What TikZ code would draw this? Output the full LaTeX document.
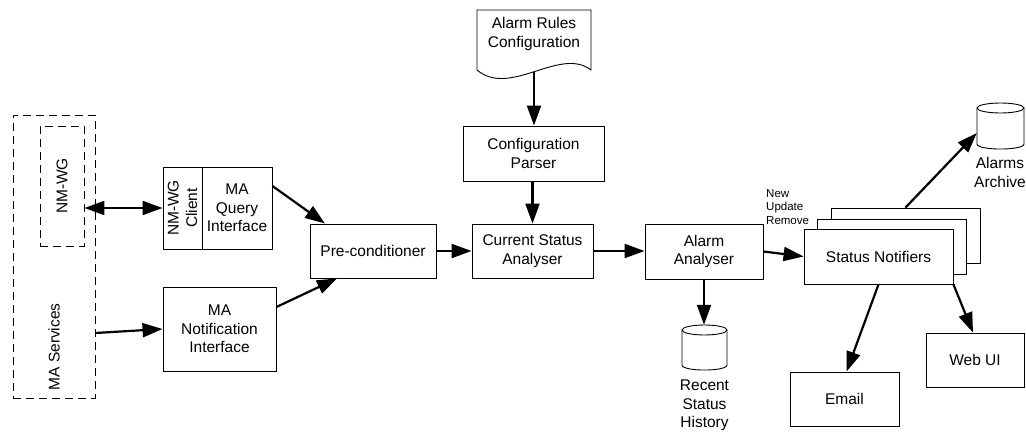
\documentclass[tikz,border=0pt]{standalone}
\usepackage{fontspec}
\setmainfont{Liberation Sans}
\usetikzlibrary{arrows.meta,calc}
\begin{document}
\begin{tikzpicture}[x=1pt,y=-1pt,
  box/.style={draw,line width=0.9pt,fill=white,inner sep=0pt,align=center,
    font=\fontsize{15.5}{18.5}\selectfont},
  dbox/.style={draw,line width=0.9pt,dash pattern=on 8pt off 5pt,inner sep=0pt},
  lbl/.style={inner sep=0pt,align=center,font=\fontsize{15.5}{18.5}\selectfont},
  small/.style={inner sep=0pt,align=left,font=\fontsize{11.5}{13.5}\selectfont},
  arr/.style={line width=2.2pt,-{Triangle[length=20pt,width=14pt]}},
  darr/.style={line width=2.2pt,{Triangle[length=20pt,width=14pt]}-{Triangle[length=20pt,width=14pt]}},
  cyl/.style={line width=0.9pt,fill=white}]
\useasboundingbox (0,0) rectangle (1026,433);

% MA services (dashed)
\node[dbox,minimum width=82pt,minimum height=283pt] (outer) at (54,256.5) {};
\node[lbl,rotate=90] (masvc) at (54,347) {MA Services};
\node[dbox,minimum width=44pt,minimum height=120pt] (inner) at (62,186) {};
\node[lbl,rotate=90] (nmwg) at (62,186) {NM-WG};

% query interface
\node[box,minimum width=39pt,minimum height=82pt] (client) at (182.5,208) {};
\node[lbl,rotate=90] (clientt) at (182.5,208) {NM-WG\\Client};
\node[box,minimum width=70pt,minimum height=82pt] (query) at (237,208) {MA\\Query\\Interface};
\node[box,minimum width=113pt,minimum height=84pt] (notif) at (219.5,329) {MA\\Notification\\Interface};

\node[box,minimum width=126pt,minimum height=54pt] (pre) at (373,251) {Pre-conditioner};
\node[box,minimum width=121pt,minimum height=54pt] (csa) at (532.5,251) {Current Status\\Analyser};
\node[box,minimum width=141pt,minimum height=55pt] (parser) at (533.5,153.5) {Configuration\\Parser};

% document
\draw[line width=0.9pt,fill=white] (477,10) -- (591,10) -- (591,70)
  .. controls (560,46) and (510,98) .. (477,70) -- cycle;
\node[lbl] (doct) at (534,34) {Alarm Rules\\Configuration};
\coordinate (docb) at (534,72);

\node[box,minimum width=118pt,minimum height=55pt] (aa) at (704,251.5) {Alarm\\Analyser};

% status notifiers stack
\node[box,minimum width=149pt,minimum height=55pt] (sn3) at (905.5,235.5) {};
\node[box,minimum width=149pt,minimum height=55pt] (sn2) at (891.5,246.5) {};
\node[box,minimum width=149pt,minimum height=55pt] (sn) at (878.5,256.5) {Status Notifiers};
\node[small,anchor=west] (nur) at (766,207) {New\\Update\\Remove};

\node[box,minimum width=109pt,minimum height=54pt] (email) at (844.5,399) {Email};
\node[box,minimum width=98pt,minimum height=54pt] (webui) at (975,360) {Web UI};

% cylinders
\draw[cyl] (682,330) -- (682,365) .. controls (682,371.7) and (727,371.7) .. (727,365) -- (727,330);
\draw[cyl] (704.5,330) ellipse [x radius=22.5pt, y radius=5pt];
\node[inner sep=0pt,minimum width=45pt,minimum height=45pt] (recent) at (704.5,347.5) {};
\node[lbl] (recentt) at (704.5,405.5) {Recent\\Status\\History};

\draw[cyl] (977,108) -- (977,144) .. controls (977,150.7) and (1024,150.7) .. (1024,144) -- (1024,108);
\draw[cyl] (1000.5,108) ellipse [x radius=23.5pt, y radius=5pt];
\node[inner sep=0pt,minimum width=47pt,minimum height=46pt] (archive) at (1000.5,126) {};
\node[lbl] (archivet) at (1000,172.5) {Alarms\\Archive};

% connectors
\draw[darr] (inner.east |- client.west) -- (client.west);
\draw[arr] ([yshift=-4pt]outer.east |- notif.west) -- (notif.west);
\draw[arr] ([yshift=22pt]query.east) -- ([xshift=-48pt]pre.north);
\draw[arr] ([yshift=22pt]notif.east) -- ([xshift=-36pt]pre.south);
\draw[arr] (pre.east) -- (csa.west);
\draw[arr] (csa.east) -- (aa.west |- csa.east);
\draw[arr] (docb) -- (docb |- parser.north);
\draw[arr] (parser.south -| csa.north) -- (csa.north);
\draw[arr] (aa.east) -- (sn.west);
\draw[arr] (aa.south) -- (recent.north -| aa.south);
\draw[arr] (sn3.north) -- ([yshift=-7pt]archive.west);
\draw[arr] (sn.south) -- ([xshift=2pt]email.north);
\draw[arr] (sn.south east) -- ([xshift=-2pt]webui.north);
\end{tikzpicture}
\end{document}
